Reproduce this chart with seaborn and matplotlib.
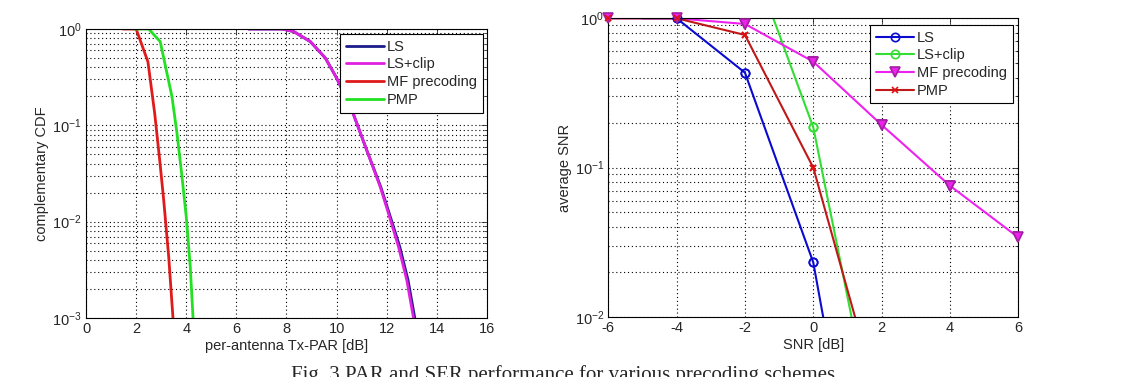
import numpy as np
import pandas as pd
import matplotlib
matplotlib.use("Agg")
import matplotlib.pyplot as plt
import seaborn as sns
from matplotlib.ticker import LogLocator, FixedLocator

# ---- left panel: complementary CDF of per-antenna PAR ----
par_ls = [6.49, 7.83, 8.29, 8.95, 9.55, 10.0, 10.61, 11.2, 11.76, 12.1, 12.52, 12.85, 13.12]
ccdf_ls = [1.0, 1.0, 0.94, 0.74, 0.5, 0.31, 0.144, 0.0554, 0.023, 0.0122, 0.0055, 0.00248, 0.001]
par_lsclip = [6.49, 7.83, 8.29, 8.95, 9.55, 10.0, 10.61, 11.2, 11.74, 12.07, 12.47, 12.8, 13.07]
ccdf_lsclip = [1.0, 1.0, 0.94, 0.74, 0.5, 0.31, 0.144, 0.0554, 0.023, 0.0122, 0.0055, 0.00248, 0.001]
par_mf = [1.46, 2.0, 2.47, 2.74, 2.94, 3.1, 3.3, 3.47]
ccdf_mf = [1.0, 1.0, 0.457, 0.133, 0.0436, 0.0167, 0.0043, 0.001]
par_pmp = [1.9, 2.5, 2.96, 3.43, 3.63, 3.83, 4.0, 4.16, 4.27]
ccdf_pmp = [1.0, 1.0, 0.74, 0.198, 0.0826, 0.0293, 0.0112, 0.0034, 0.001]

# ---- right panel: error rate vs SNR ----
snr_ls = [-5, -4, -2, 0, 2]
ser_ls = [1.0, 1.0, 0.432, 0.0231, 7e-5]
snr_lsclip = [-4, -2, 0, 2]
ser_lsclip = [10.0, 3.3, 0.186, 0.001]
snr_mf = [-6, -4, -2, 0, 2, 4, 6]
ser_mf = [1.0, 1.0, 0.916, 0.512, 0.193, 0.0755, 0.034]
snr_pmp = [-6, -4, -2, 0, 2]
ser_pmp = [1.0, 1.0, 0.773, 0.0998, 0.0023]

sns.set_style("white")
plt.rcParams['font.family'] = ['Liberation Sans', 'DejaVu Sans']
plt.rcParams['mathtext.fontset'] = 'custom'
plt.rcParams['mathtext.rm'] = 'Liberation Sans'
plt.rcParams['mathtext.it'] = 'Liberation Sans'
plt.rcParams['axes.unicode_minus'] = False
plt.rcParams['font.size'] = 10

fig = plt.figure(figsize=(11.38, 3.77), dpi=100)
ax1 = fig.add_axes([0.0756, 0.1565, 0.3523, 0.7666])
ax2 = fig.add_axes([0.5345, 0.1599, 0.3603, 0.7916])


def matlab_axes(ax):
    ax.set_yscale('log')
    ax.yaxis.set_minor_locator(LogLocator(base=10, subs=np.arange(2, 10)))
    ax.grid(True, which='major', color='black', linestyle=(0, (1, 2.5)), linewidth=0.8)
    ax.grid(True, which='minor', axis='y', color='black', linestyle=(0, (1, 2.5)), linewidth=0.8)
    ax.tick_params(which='both', direction='in', top=True, right=True, labelsize=10.5, pad=3)
    ax.tick_params(which='major', length=4, width=0.6)
    ax.tick_params(which='minor', length=2, width=0.6)
    for s in ax.spines.values():
        s.set_color('black')
        s.set_linewidth(0.8)


def legend_box(ax, anchor):
    leg = ax.legend(loc='upper right', bbox_to_anchor=anchor, fontsize=10.5,
                    handlelength=2.6, fancybox=False, framealpha=1, edgecolor='black',
                    borderpad=0.4, labelspacing=0.25, handletextpad=0.2, borderaxespad=0)
    leg.get_frame().set_linewidth(0.8)


# left panel
sns.lineplot(x=par_ls, y=ccdf_ls, ax=ax1, color='#1c1c8a', linewidth=2, label='LS', sort=False)
sns.lineplot(x=par_lsclip, y=ccdf_lsclip, ax=ax1, color='#e020e0', linewidth=2, label='LS+clip', sort=False)
sns.lineplot(x=par_mf, y=ccdf_mf, ax=ax1, color='#e01a1a', linewidth=2, label='MF precoding', sort=False)
sns.lineplot(x=par_pmp, y=ccdf_pmp, ax=ax1, color='#22e022', linewidth=2, label='PMP', sort=False)
matlab_axes(ax1)
ax1.set_xlim(0, 16)
ax1.set_ylim(1e-3, 1)
ax1.xaxis.set_major_locator(FixedLocator(np.arange(0, 17, 2)))
ax1.set_xlabel('per-antenna Tx-PAR [dB]', fontsize=10.5, labelpad=2)
ax1.set_ylabel('complementary CDF', fontsize=10.5, labelpad=2)
legend_box(ax1, (0.99, 0.983))

# right panel: lines clipped to the axes, in-range markers redrawn unclipped like MATLAB
styles = [
    ('LS', snr_ls, ser_ls, '#0a0ad0', 'o', 6, 'none', '#0a0ad0'),
    ('LS+clip', snr_lsclip, ser_lsclip, '#33dd33', 'o', 6, 'none', '#33dd33'),
    ('MF precoding', snr_mf, ser_mf, '#ee22ee', 'v', 7, '#ee22ee', '#a020a0'),
    ('PMP', snr_pmp, ser_pmp, '#c01818', 'x', 5, '#e01010', '#e01010'),
]
for name, xs, ys, col, mk, ms, mfc, mec in styles:
    every = list(range(1, len(xs))) if name == 'LS' else None
    sns.lineplot(x=xs, y=ys, ax=ax2, color=col, linewidth=1.5, marker=mk, markersize=ms,
                 markerfacecolor=mfc, markeredgecolor=mec, mew=1.2, label=name, sort=False,
                 markevery=every)
    pts = pd.DataFrame({'x': xs, 'y': ys})
    pts = pts[(pts['y'] <= 1.0) & (pts['y'] >= 0.01)]
    if name == 'LS':
        pts = pts[pts['x'] >= -4]
    sns.lineplot(data=pts, x='x', y='y', ax=ax2, linestyle='none', marker=mk, markersize=ms,
                 markerfacecolor=mfc, markeredgecolor=mec, mew=1.2, legend=False,
                 clip_on=False, zorder=5)
legend_box(ax2, (0.987, 0.978))
matlab_axes(ax2)
ax2.set_xlim(-6, 6)
ax2.set_ylim(1e-2, 1)
ax2.xaxis.set_major_locator(FixedLocator(np.arange(-6, 7, 2)))
ax2.set_xlabel('SNR [dB]', fontsize=10.5, labelpad=2)
ax2.set_ylabel('average SNR', fontsize=10.5, labelpad=2)

fig.text(0.495, 1 - 365 / 377, 'Fig. 3 PAR and SER performance for various precoding schemes',
         ha='center', va='top', fontsize=15, family=['Liberation Serif', 'DejaVu Serif'])

fig.savefig('out.png', dpi=100)
